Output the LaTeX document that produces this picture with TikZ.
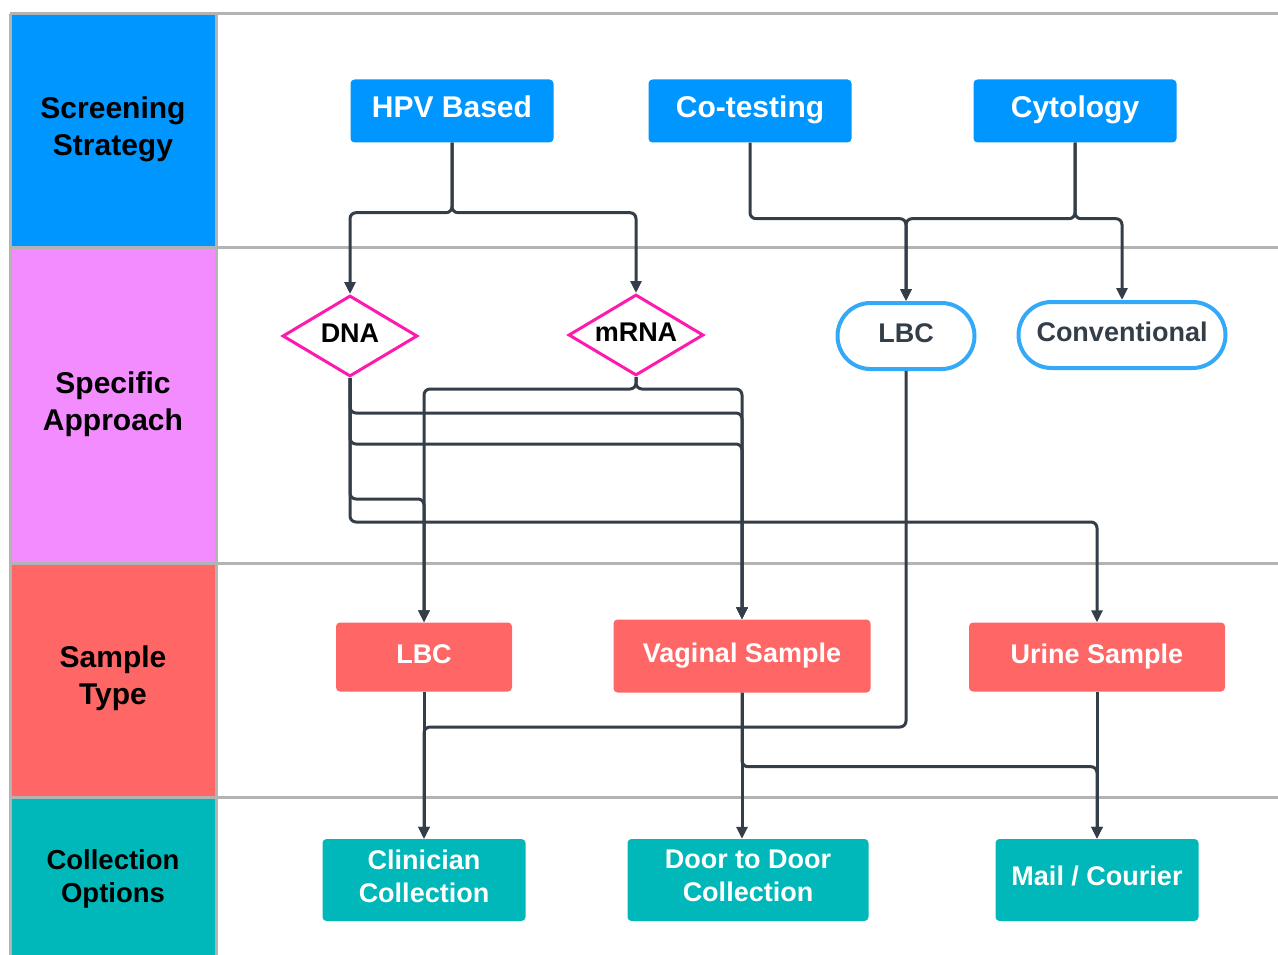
\documentclass[tikz,border=0pt]{standalone}
\usepackage{fontspec}
\setmainfont{Liberation Sans}
\usepackage{xcolor}
\usetikzlibrary{arrows.meta, positioning, shapes.geometric, shapes.misc, calc}

\definecolor{stratblue}{HTML}{0096FF}
\definecolor{approachpink}{HTML}{F28CFF}
\definecolor{samplered}{HTML}{FF6666}
\definecolor{collteal}{HTML}{00B8BA}
\definecolor{dnapink}{HTML}{FF1AAE}
\definecolor{lbcblue}{HTML}{33A9F7}
\definecolor{darkslate}{HTML}{333E48}
\definecolor{gridgray}{HTML}{B3B3B3}

\begin{document}
\begin{tikzpicture}[
    x=1pt, y=-1pt,
    every node/.style={font=\bfseries\fontsize{27}{33}\selectfont, align=center, inner sep=0pt},
    lane/.style={text=black, font=\bfseries\fontsize{30}{37}\selectfont},
    strategy/.style={fill=stratblue, rectangle, rounded corners=4pt, minimum width=203pt, minimum height=63pt, text=white, font=\bfseries\fontsize{30}{37}\selectfont, text height=22pt, text depth=8pt},
    approach/.style={draw=dnapink, line width=3pt, fill=white, diamond, aspect=1.67, minimum width=135pt, minimum height=81pt, text=black, text height=20pt, text depth=7pt},
    pill/.style={draw=lbcblue, line width=4pt, fill=white, rounded rectangle, minimum height=66pt, text=darkslate, text height=20pt, text depth=7pt},
    sample/.style={fill=samplered, rectangle, rounded corners=4pt, minimum height=69pt, text=white, text height=20pt, text depth=7pt},
    collect/.style={fill=collteal, rectangle, rounded corners=4pt, minimum width=203pt, minimum height=82pt, text=white, text depth=8pt},
    conn/.style={draw=darkslate, line width=3pt, rounded corners=6pt, -{Triangle[length=12pt, width=11pt]}},
    laneline/.style={draw=gridgray, line width=3pt}
]
    \useasboundingbox (0,0) rectangle (1278,955);

    % Lanes
    \fill[stratblue] (10,14) rectangle (216,247);
    \fill[approachpink] (10,247) rectangle (216,563);
    \fill[samplered] (10,563) rectangle (216,797);
    \fill[collteal] (10,797) rectangle (216,955);
    \draw[laneline] (10,14) -- (1278,14);
    \foreach \y in {247,563,797}
        \draw[laneline] (10,\y) -- (1278,\y);
    \draw[laneline] (10,14) -- (10,955);
    \draw[laneline] (216,14) -- (216,955);

    \node[lane] (L1) at (113,129) {Screening\\Strategy};
    \node[lane] (L2) at (113,404) {Specific\\Approach};
    \node[lane] (L3) at (113,678) {Sample\\Type};
    \node[lane, font=\bfseries\fontsize{27.5}{33}\selectfont] (L4) at (113,879) {Collection\\Options};

    % Screening strategy
    \node[strategy] (hpv) at (452,111) {HPV Based};
    \node[strategy] (cotest) at (750,111) {Co-testing};
    \node[strategy] (cyto) at (1075,111) {Cytology};

    % Specific approach
    \node[approach] (dna) at (350,336) {DNA};
    \node[approach] (mrna) at (636,335) {mRNA};
    \node[pill, minimum width=137pt] (lbcA) at (906,336) {LBC};
    \node[pill, minimum width=207pt] (conv) at (1122,335) {Conventional};

    % Sample type
    \node[sample, minimum width=176pt] (lbcS) at (424,657) {LBC};
    \node[sample, minimum width=257pt, minimum height=73pt] (vag) at (742,656) {Vaginal Sample};
    \node[sample, minimum width=256pt] (urine) at (1097,657) {Urine Sample};

    % Collection options
    \node[collect] (clin) at (424,880) {Clinician\\Collection};
    \node[collect, minimum width=241pt] (door) at (748,880) {Door to Door\\Collection};
    \node[collect] (mail) at (1097,880) {Mail / Courier};

    % Strategy to approach
    \draw[conn] (hpv.south) -- ++(0,70) -| (dna.north);
    \draw[conn] (hpv.south) -- ++(0,70) -| (mrna.north);
    \draw[conn] (cotest.south) -- ++(0,76) -| (lbcA.north);
    \draw[conn] (cyto.south) -- ++(0,76) -| (lbcA.north);
    \draw[conn] (cyto.south) -- ++(0,76) -| (conv.north);

    % Approach to sample
    \draw[conn] (dna.south) -- ++(0,35) -| (vag.north);
    \draw[conn] (dna.south) -- ++(0,66) -| (vag.north);
    \draw[conn] (dna.south) -- ++(0,121) -| (lbcS.north);
    \draw[conn] (dna.south) -- ++(0,144) -| (urine.north);
    \draw[conn] (mrna.south) -- ++(0,12) -| (lbcS.north);
    \draw[conn] (mrna.south) -- ++(0,12) -| (vag.north);
    \draw[conn] (lbcA.south) -- ++(0,356) -| (clin.north);

    % Sample to collection
    \draw[conn] (lbcS.south) -- (clin.north);
    \draw[conn] (vag.south) -- (vag.south |- door.north);
    \draw[conn] (vag.south) -- ++(0,74) -| (mail.north);
    \draw[conn] (urine.south) -- (mail.north);

\end{tikzpicture}
\end{document}
